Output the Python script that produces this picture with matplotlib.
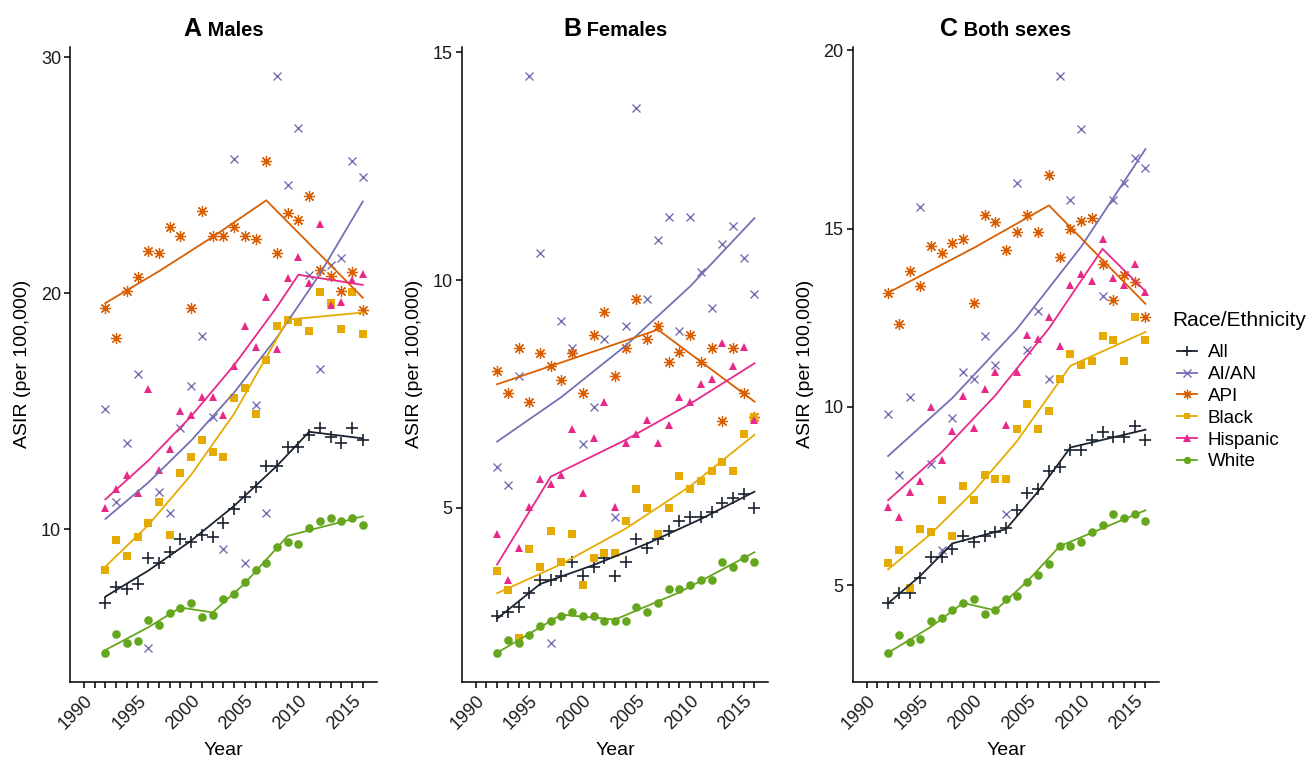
import matplotlib
matplotlib.use('Agg')
import matplotlib.pyplot as plt
from matplotlib.lines import Line2D

plt.rcParams['font.family'] = ['Liberation Sans', 'DejaVu Sans']

years = list(range(1992, 2017))
groups = ['All', 'AI/AN', 'API', 'Black', 'Hispanic', 'White']
colors = ['#1c2430', '#7570B3', '#D95F02', '#E6AB02', '#E7298A', '#66A61E']
markers = ['+', 'x', (8, 2, 0), 's', '^', 'o']
msizes = [8.5, 6.0, 8.0, 5.2, 6.4, 6.2]
mews = [1.2, 1.0, 0.9, 0, 0, 0]

# ---- observed ASIR, 1992-2016 ----
males_all = [6.86, 7.57, 7.47, 7.68, 8.77, 8.56, 9.05, 9.58, 9.45, 9.77, 9.66, 10.28, 10.86, 11.38, 11.78, 12.70, 12.70, 13.50, 13.47, 13.98, 14.28, 13.90, 13.67, 14.29, 13.77]
males_aian = [15.08, 11.17, 13.67, 16.58, 4.96, 11.57, 10.68, 14.28, 16.07, 18.19, 14.77, 9.17, 25.69, 8.56, 15.28, 10.68, 29.21, 24.59, 26.99, 20.78, 16.80, 21.20, 21.48, 25.59, 24.90]
males_api = [19.39, 18.09, 20.10, 20.69, 21.79, 21.69, 22.80, 22.40, 19.39, 23.50, 22.40, 22.40, 22.80, 22.40, 22.30, 25.59, 21.69, 23.40, 23.11, 24.11, 21.00, 20.71, 20.10, 20.89, 19.28]
males_black = [8.29, 9.55, 8.87, 9.69, 10.28, 11.16, 9.76, 12.40, 13.08, 13.79, 13.29, 13.08, 15.56, 16.00, 14.90, 17.19, 18.59, 18.87, 18.79, 18.38, 20.07, 19.60, 18.50, 20.07, 18.29]
males_hisp = [10.92, 11.71, 12.32, 11.53, 15.93, 12.51, 13.42, 15.01, 14.82, 15.62, 15.62, 14.82, 16.92, 18.62, 17.73, 19.82, 17.63, 20.64, 21.53, 20.42, 22.94, 19.51, 19.63, 20.54, 20.82]
males_white = [4.77, 5.58, 5.17, 5.27, 6.16, 5.97, 6.47, 6.67, 6.86, 6.27, 6.37, 7.06, 7.26, 7.75, 8.26, 8.56, 9.27, 9.46, 9.36, 10.07, 10.37, 10.47, 10.37, 10.47, 10.17]

fem_all = [2.62, 2.71, 2.82, 3.12, 3.42, 3.42, 3.50, 3.80, 3.50, 3.70, 3.90, 3.50, 3.80, 4.30, 4.11, 4.30, 4.49, 4.70, 4.80, 4.80, 4.90, 5.10, 5.21, 5.30, 5.00]
fem_aian = [5.90, 5.50, 7.90, 14.49, 10.59, 2.02, 9.09, 8.50, 6.39, 7.20, 8.70, 4.80, 8.99, 13.78, 9.59, 10.89, 11.39, 8.89, 11.39, 10.18, 9.39, 10.79, 11.19, 10.49, 9.69]
fem_api = [8.01, 7.51, 8.50, 7.31, 8.39, 8.12, 7.81, 8.39, 7.51, 8.80, 9.29, 7.90, 8.50, 9.59, 8.70, 8.99, 8.20, 8.41, 8.80, 8.20, 8.50, 6.91, 8.50, 7.51, 7.00]
fem_black = [3.61, 3.20, 2.13, 4.10, 3.70, 4.49, 3.81, 4.41, 3.31, 3.90, 4.01, 4.01, 4.71, 5.40, 5.00, 4.41, 5.00, 5.70, 5.40, 5.59, 5.81, 6.01, 5.81, 6.61, 7.00]
fem_hisp = [4.42, 3.42, 4.12, 5.02, 5.62, 5.52, 5.72, 6.72, 5.32, 6.52, 7.32, 5.02, 6.41, 6.62, 6.92, 6.41, 6.82, 7.42, 7.32, 7.72, 7.82, 8.61, 8.12, 8.52, 6.92]
fem_white = [1.81, 2.10, 2.02, 2.21, 2.41, 2.51, 2.62, 2.71, 2.62, 2.62, 2.51, 2.51, 2.51, 2.81, 2.71, 2.91, 3.21, 3.21, 3.31, 3.41, 3.41, 3.81, 3.70, 3.90, 3.81]

both_all = [4.49, 4.79, 4.79, 5.19, 5.79, 5.79, 6.00, 6.38, 6.20, 6.38, 6.50, 6.59, 7.10, 7.59, 7.69, 8.19, 8.30, 8.79, 8.79, 9.07, 9.29, 9.16, 9.16, 9.47, 9.08]
both_aian = [9.79, 8.08, 10.28, 15.60, 8.39, 5.98, 9.68, 10.98, 10.79, 12.00, 11.18, 6.99, 16.29, 11.60, 12.70, 10.79, 19.29, 15.79, 17.79, 15.30, 13.10, 15.79, 16.28, 16.99, 16.70]
both_api = [13.20, 12.31, 13.80, 13.40, 14.50, 14.31, 14.61, 14.70, 12.90, 15.39, 15.19, 14.40, 14.90, 15.39, 14.90, 16.50, 14.20, 15.00, 15.21, 15.30, 14.01, 13.01, 13.71, 13.50, 12.51]
both_black = [5.61, 5.98, 4.91, 6.58, 6.49, 7.38, 6.37, 7.78, 7.38, 8.08, 7.98, 7.98, 9.37, 10.08, 9.37, 9.88, 10.78, 11.48, 11.18, 11.29, 11.98, 11.87, 11.29, 12.51, 11.87]
both_hisp = [7.20, 6.92, 7.61, 7.92, 10.00, 8.50, 9.31, 10.31, 9.40, 10.50, 10.99, 9.50, 10.99, 12.01, 11.90, 12.52, 11.71, 13.41, 13.73, 13.52, 14.71, 13.62, 13.41, 14.02, 13.21]
both_white = [3.10, 3.60, 3.40, 3.50, 3.99, 4.09, 4.29, 4.50, 4.60, 4.20, 4.29, 4.60, 4.70, 5.09, 5.29, 5.59, 6.09, 6.09, 6.20, 6.50, 6.69, 6.99, 6.89, 6.99, 6.79]

# ---- joinpoint fitted lines (year, fitted ASIR) ----
males_fit_years = [[1992, 1996, 2000, 2004, 2008, 2011, 2016],
                   [1992, 1996, 2000, 2004, 2008, 2012, 2016],
                   [1992, 1997, 2002, 2007, 2016],
                   [1992, 1996, 2000, 2004, 2009, 2016],
                   [1992, 1996, 2000, 2004, 2008, 2010, 2016],
                   [1992, 1996, 1999, 2002, 2005, 2009, 2016]]
males_fit_vals = [[7.15, 8.25, 9.52, 10.99, 12.69, 14.13, 13.85],
                  [10.44, 11.98, 13.76, 15.79, 18.13, 20.81, 23.88],
                  [19.58, 20.93, 22.38, 23.93, 19.81],
                  [8.42, 10.18, 12.31, 14.89, 18.88, 19.18],
                  [11.27, 12.91, 14.79, 16.95, 19.42, 20.78, 20.35],
                  [4.89, 5.85, 6.69, 6.48, 7.71, 9.72, 10.55]]

fem_fit_years = [[1992, 1996, 2001, 2006, 2011, 2016],
                 [1992, 1998, 2004, 2010, 2016],
                 [1992, 2007, 2016],
                 [1992, 1998, 2004, 2010, 2016],
                 [1992, 1997, 2004, 2010, 2016],
                 [1992, 1998, 2003, 2009, 2016]]
fem_fit_vals = [[2.56, 3.32, 3.74, 4.21, 4.75, 5.35],
                [6.45, 7.43, 8.56, 9.86, 11.36],
                [7.71, 8.91, 7.33],
                [3.12, 3.76, 4.54, 5.47, 6.60],
                [3.75, 5.68, 6.49, 7.28, 8.17],
                [1.81, 2.65, 2.54, 3.14, 4.02]]

both_fit_years = [[1992, 1995, 1998, 2003, 2006, 2009, 2016],
                  [1992, 1998, 2004, 2010, 2016],
                  [1992, 2000, 2007, 2016],
                  [1992, 1996, 2000, 2004, 2009, 2016],
                  [1992, 1997, 2002, 2007, 2012, 2016],
                  [1992, 1996, 1999, 2002, 2005, 2008, 2016]]
both_fit_vals = [[4.49, 5.26, 6.17, 6.57, 7.63, 8.86, 9.36],
                 [8.62, 10.25, 12.18, 14.49, 17.23],
                 [13.20, 14.46, 15.65, 12.89],
                 [5.44, 6.44, 7.63, 9.03, 11.15, 12.10],
                 [7.38, 8.73, 10.32, 12.20, 14.43, 13.24],
                 [3.10, 3.83, 4.50, 4.29, 5.11, 6.09, 7.10]]

panels = [
    ('A', 'Males', [males_all, males_aian, males_api, males_black, males_hisp, males_white],
     males_fit_years, males_fit_vals, [10, 20, 30]),
    ('B', 'Females', [fem_all, fem_aian, fem_api, fem_black, fem_hisp, fem_white],
     fem_fit_years, fem_fit_vals, [5, 10, 15]),
    ('C', 'Both sexes', [both_all, both_aian, both_api, both_black, both_hisp, both_white],
     both_fit_years, both_fit_vals, [5, 10, 15, 20]),
]

W, H = 1312, 760
fig = plt.figure(figsize=(W / 100, H / 100), dpi=100)
lefts = [70, 461.7, 852.7]
ax_w, ax_top, ax_bot = 306.7, 46.8, 681.7

axes = []
for (letter, name, obs, fy, fv, yt), lp in zip(panels, lefts):
    ax = fig.add_axes([lp / W, 1 - ax_bot / H, ax_w / W, (ax_bot - ax_top) / H])
    axes.append(ax)
    allv = [v for s in obs for v in s] + [v for s in fv for v in s]
    lo, hi = min(allv), max(allv)
    pad = (hi - lo) * 0.05
    ax.set_ylim(lo - pad, hi + pad)
    ax.set_xlim(1990 - 1.3, 2016 + 1.3)
    for i, g in enumerate(groups):
        ax.plot(years, obs[i], linestyle='none', marker=markers[i], color=colors[i],
                markersize=msizes[i], markeredgewidth=mews[i] if mews[i] else 0.0,
                markeredgecolor=colors[i], zorder=3)
    for i, g in enumerate(groups):
        ax.plot(fy[i], fv[i], color=colors[i], linewidth=1.3, zorder=4,
                solid_joinstyle='miter')
    ax.set_yticks(yt)
    ax.set_yticklabels([str(t) for t in yt])
    ax.set_xticks(list(range(1990, 2017)))
    ax.set_xticklabels([str(y) if y % 5 == 0 else '' for y in range(1990, 2017)],
                       rotation=45, ha='right', rotation_mode='anchor')
    for s in ['top', 'right']:
        ax.spines[s].set_visible(False)
    for s in ['left', 'bottom']:
        ax.spines[s].set_linewidth(1.1)
        ax.spines[s].set_color('black')
    ax.tick_params(axis='both', length=4.5, width=1.1, color='black',
                   labelsize=13, labelcolor='#1a1a1a')
    ax.tick_params(axis='x', pad=3)
    ax.tick_params(axis='y', pad=2)
    ax.set_xlabel('Year', fontsize=14, labelpad=7)
    ax.set_ylabel('ASIR (per 100,000)', fontsize=14, labelpad=7)

# titles: large bold letter + bold panel name, centred over each panel
fig.canvas.draw()
r = fig.canvas.get_renderer()
for ax, (letter, name, *_rest) in zip(axes, panels):
    t1 = fig.text(0, 0, letter, fontsize=18, fontweight='bold')
    t2 = fig.text(0, 0, ' ' + name, fontsize=14.5, fontweight='bold')
    w1 = t1.get_window_extent(r).width
    w2 = t2.get_window_extent(r).width
    bb = ax.get_position()
    cx = (bb.x0 + bb.x1) / 2 * W
    x0 = cx - (w1 + w2) / 2
    ybase = 1 - 35.5 / H
    t1.set_position((x0 / W, ybase))
    t2.set_position(((x0 + w1) / W, ybase))
    t1.set_va('baseline')
    t2.set_va('baseline')

# legend: title as its own text, entries below
fig.text(1172 / W, 1 - 321 / H, 'Race/Ethnicity', fontsize=15, ha='left', va='center')
handles = [Line2D([0], [0], color=colors[i], marker=markers[i], markersize=msizes[i] * 0.85,
                  markeredgewidth=mews[i], linewidth=1.3) for i in range(len(groups))]
leg = fig.legend(handles, groups, loc='upper left',
                 bbox_to_anchor=(1164 / W, 1 - 331 / H), frameon=False,
                 fontsize=13.5, handlelength=1.05, handletextpad=0.58,
                 labelspacing=0.25, borderpad=0.2)

fig.savefig('out.png', dpi=100)
